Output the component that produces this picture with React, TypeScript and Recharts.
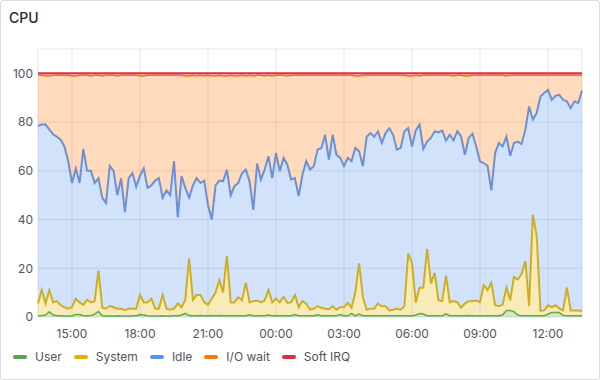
import { AreaChart, Area, XAxis, YAxis, CartesianGrid } from 'recharts';

// levels, one sample every 10 minutes from 13:30
const userTop = [
  0.5, 0.6, 0.8, 2.2, 0.8, 0.5, 0.5, 0.4, 0.4, 0.5,
  1, 1, 0.6, 0.5, 0.6, 1.2, 2.3, 0.6, 0.4, 0.4,
  0.4, 0.5, 0.4, 0.4, 0.4, 0.5, 0.5, 1, 0.8, 0.5,
  0.4, 0.4, 0.4, 0.5, 0.4, 0.4, 0.5, 0.5, 0.8, 1.5,
  0.6, 0.5, 0.5, 0.6, 0.5, 0.5, 0.6, 0.5, 0.6, 0.5,
  0.5, 0.5, 0.5, 0.5, 0.5, 0.5, 0.9, 0.5, 0.5, 0.5,
  0.5, 0.8, 0.5, 0.5, 0.5, 0.5, 0.5, 0.5, 1, 0.5,
  0.5, 0.5, 0.5, 0.5, 0.9, 0.5, 0.5, 0.5, 0.5, 0.5,
  1, 0.5, 0.5, 1.5, 0.5, 1.2, 0.5, 0.5, 0.5, 0.5,
  0.5, 0.5, 0.5, 0.5, 0.5, 0.5, 0.5, 0.5, 0.5, 0.5,
  0.8, 1.4, 1.2, 0.5, 0.5, 0.5, 0.5, 0.5, 1.3, 0.5,
  0.5, 0.5, 0.5, 0.5, 0.6, 0.5, 0.5, 0.5, 0.5, 0.5,
  0.5, 0.5, 0.5, 0.9, 2.7, 2.7, 2.2, 0.8, 0.5, 0.5,
  0.5, 0.5, 0.5, 0.5, 0.5, 1.2, 1.8, 1.8, 1.8, 0.7,
  0.5, 0.5, 0.5, 0.5, 0.5,
];

const systemTop = [
  5.5, 11, 5.5, 11, 6, 6.5, 4.8, 4, 3.4, 4,
  7.5, 6, 5, 7, 6, 6.5, 19, 3.8, 3.4, 4.5,
  4, 3.4, 3.4, 2.8, 3.4, 3.4, 3.4, 9, 6, 6,
  7.5, 3.4, 3.4, 9, 3.4, 3, 3.4, 5.5, 4, 7,
  24, 7, 9, 9, 6, 5, 7.5, 10, 15, 10,
  25, 6, 6, 8, 6.8, 14, 6, 6.5, 6.8, 6,
  6.8, 11, 6, 7.5, 6, 8.2, 5.8, 6, 9, 4,
  6.5, 5.5, 3, 3.4, 4.4, 3.8, 3.4, 3.2, 4.4, 3,
  4, 4, 5.8, 3.8, 10, 22, 8, 3, 3.4, 3.4,
  5.5, 4.4, 4.4, 2.7, 3, 3.4, 3, 4.4, 26, 22,
  5.8, 12, 12, 28, 13.7, 18, 6.8, 6.5, 17, 6,
  6.5, 6, 3.8, 5.5, 6.5, 6.5, 6.8, 6, 13, 11,
  14, 4.8, 4.4, 5, 12, 6.8, 16.4, 15.3, 17.5, 23,
  4.4, 42, 33, 2.5, 2.7, 4.8, 4, 4.8, 3.4, 2.7,
  12, 2.7, 2.7, 2.7, 2.5,
];

const idleTop = [
  78.5, 79, 79, 77, 75, 74, 72.8, 70, 64, 55,
  61, 55, 69, 60, 60, 55, 57, 49, 46.8, 62,
  60, 50, 57, 43, 57, 59, 53.5, 58, 61, 53,
  54, 56, 57, 49, 52, 50, 64, 41, 57.8, 53,
  49, 54, 57, 55, 56, 46, 40, 54, 56, 55.7,
  60.5, 50, 53.7, 55, 59, 60.5, 55.7, 44, 63, 56.4,
  60.5, 66, 57, 67.3, 59.8, 65.3, 62.5, 56.4, 57, 49.6,
  58.4, 64, 60.5, 61.9, 68.7, 69.4, 74.8, 64.6, 74.8, 66.6,
  65.3, 61.9, 65.3, 64, 69.4, 68, 61.9, 74, 75.5, 74,
  76.2, 71.4, 75.5, 77.5, 74.8, 68.7, 69.4, 76.2, 77.5, 70,
  76.6, 79, 69, 72, 73.5, 76.2, 75.8, 76.5, 72.4, 74.8,
  72.5, 76.2, 74.1, 66.6, 73.5, 75.2, 70, 63.9, 63.2, 62.1,
  52, 67.3, 71.4, 70, 74.1, 66.2, 71.4, 72, 71, 76.9,
  86.4, 81, 83.7, 90.5, 91.9, 93.2, 89.1, 90.8, 91.2, 89.1,
  88.5, 85.7, 88.5, 87.8, 93,
];

const iowaitTop = [
  99.2, 99.2, 98.9, 98.9, 99.2, 99.2, 99.2, 99.2, 99.2, 98.9,
  98.9, 99.2, 99.2, 99.2, 98.9, 99.2, 99.2, 98.9, 99.2, 99.2,
  99.2, 98.9, 99.2, 99.2, 99.2, 99.2, 99.2, 98.9, 98.9, 99.2,
  99.2, 99.2, 99.2, 99.2, 99.2, 99.2, 99.2, 99.2, 99.2, 98.9,
  98.9, 99.2, 98.9, 99.2, 98.9, 99.2, 98.9, 98.9, 99.2, 98.9,
  98.9, 99.2, 98.9, 98.9, 99.2, 98.9, 99.2, 98.9, 99.2, 99.2,
  98.9, 99.2, 98.9, 99.2, 99.2, 99.2, 98.9, 99.2, 99.2, 99.2,
  99.2, 99.2, 99.2, 99.2, 99.2, 99.2, 99.2, 99.2, 99.2, 99.2,
  99.2, 99.2, 99.2, 99.2, 98.9, 98.9, 99.2, 99.2, 99.2, 99.2,
  99.2, 99.2, 99.2, 99.2, 99.2, 99.2, 99.2, 99.2, 98.9, 98.9,
  99.2, 98.9, 99.2, 99.2, 99.2, 99.2, 99.2, 99.2, 99.2, 99.2,
  98.9, 99.2, 99.2, 98.9, 98.9, 99.2, 99.2, 99.2, 99.2, 99.2,
  99.2, 99.2, 99.2, 99.2, 98.9, 99.2, 99.2, 99.2, 99.2, 99.2,
  99.2, 99.2, 99.2, 99.2, 99.2, 99.2, 99.2, 99.2, 99.2, 99.2,
  99.2, 99.2, 99.2, 99.2, 99.2,
];

const softirqTop = [
  100, 100, 100, 100, 100, 100, 100, 100, 100, 100,
  100, 100, 100, 100, 100, 100, 100, 100, 100, 100,
  100, 100, 100, 100, 100, 100, 100, 100, 100, 100,
  100, 100, 100, 100, 100, 100, 100, 100, 100, 100,
  100, 100, 100, 100, 100, 100, 100, 100, 100, 100,
  100, 100, 100, 100, 100, 100, 100, 100, 100, 100,
  100, 100, 100, 100, 100, 100, 100, 100, 100, 100,
  100, 100, 100, 100, 100, 100, 100, 100, 100, 100,
  100, 100, 100, 100, 100, 100, 100, 100, 100, 100,
  100, 100, 100, 100, 100, 100, 100, 100, 100, 100,
  100, 100, 100, 100, 100, 100, 100, 100, 100, 100,
  100, 100, 100, 100, 100, 100, 100, 100, 100, 100,
  100, 100, 100, 100, 100, 100, 100, 100, 100, 100,
  100, 100, 100, 100, 100, 100, 100, 100, 100, 100,
  100, 100, 100, 100, 100,
];

const tickMinutes = [90, 270, 450, 630, 810, 990, 1170, 1350];
const tickLabels = ['15:00', '18:00', '21:00', '00:00', '03:00', '06:00', '09:00', '12:00'];

const series = [
  { key: 'user', name: 'User', color: '#56A64B', width: 1.5 },
  { key: 'system', name: 'System', color: '#E0B400', width: 2 },
  { key: 'idle', name: 'Idle', color: '#5794F2', width: 2 },
  { key: 'iowait', name: 'I/O wait', color: '#FF780A', width: 1.5 },
  { key: 'softirq', name: 'Soft IRQ', color: '#E02F44', width: 2 },
];

// stacked chart wants each series' own share, so take the gaps between levels
const data = idleTop.map((_, i) => ({
  t: i * 10,
  user: userTop[i],
  system: systemTop[i] - userTop[i],
  idle: idleTop[i] - systemTop[i],
  iowait: iowaitTop[i] - idleTop[i],
  softirq: softirqTop[i] - iowaitTop[i],
}));

const textColor = '#52545c';
const font = 'Inter, "Noto Sans", sans-serif';

export default function App() {
  return (
    <div style={{ position: 'absolute', left: 0, top: 0, width: 600, height: 380, background: '#fff', fontFamily: font }}>
      <div style={{ position: 'absolute', left: 9, top: 9, fontSize: 14, fontWeight: 500, color: '#24292e' }}>CPU</div>
      <AreaChart
        width={600}
        height={380}
        data={data}
        margin={{ top: 49, right: 18, bottom: 43, left: 8 }}
      >
        <CartesianGrid stroke="rgba(0,0,0,0.1)" />
        <XAxis
          dataKey="t"
          type="number"
          domain={[0, 1440]}
          ticks={tickMinutes}
          tickFormatter={(v) => tickLabels[tickMinutes.indexOf(v)]}
          axisLine={false}
          tickLine={false}
          tickSize={0}
          tickMargin={12}
          height={20}
          tick={{ fontSize: 12, fill: textColor, fontFamily: font }}
        />
        <YAxis
          type="number"
          domain={[0, 110]}
          ticks={[0, 20, 40, 60, 80, 100]}
          axisLine={false}
          tickLine={false}
          tickSize={0}
          tickMargin={5}
          width={30}
          tick={{ fontSize: 12, fill: textColor, fontFamily: font }}
        />
        {series.map((s) => (
          <Area
            key={s.key}
            type="linear"
            dataKey={s.key}
            name={s.name}
            stackId="cpu"
            stroke={s.color}
            strokeWidth={s.width}
            fill={s.color}
            fillOpacity={0.27}
            dot={false}
            activeDot={false}
            isAnimationActive={false}
          />
        ))}
      </AreaChart>
      <div style={{ position: 'absolute', left: 13, top: 349, display: 'flex', alignItems: 'center', fontSize: 12, color: textColor }}>
        {series.map((s) => (
          <div key={s.key} style={{ display: 'flex', alignItems: 'center', marginRight: 12 }}>
            <span style={{ width: 14, height: 4, borderRadius: 2, background: s.color, marginRight: 8 }} />
            <span>{s.name}</span>
          </div>
        ))}
      </div>
      <div style={{ position: 'absolute', inset: 0, border: '1px solid #dcdcdc', borderRadius: 3, pointerEvents: 'none' }} />
    </div>
  );
}
